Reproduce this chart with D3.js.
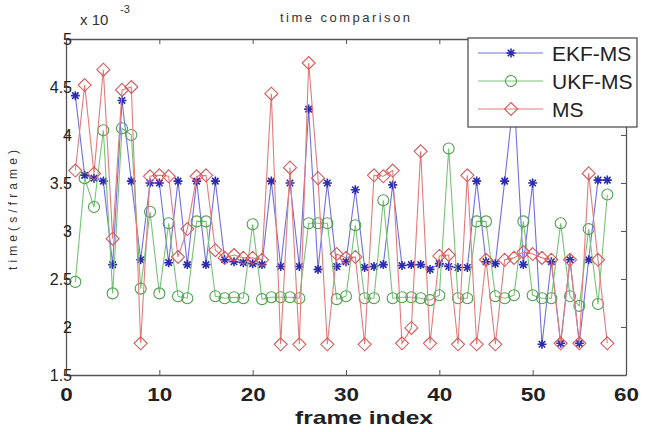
<!DOCTYPE html>
<html>
<head>
<meta charset="utf-8">
<script src="https://cdn.jsdelivr.net/npm/d3@7"></script>
<style>
body { margin: 0; background: #fff; }
text { font-family: "Liberation Sans", Arial, sans-serif; }
</style>
</head>
<body>
<script>
// frame index (x) for every sample
var frames = [1,2,3,4,5,6,7,8,9,10,11,12,13,14,15,16,17,18,19,20,
  21,22,23,24,25,26,27,28,29,30,31,32,33,34,35,36,37,38,39,40,
  41,42,43,44,45,46,47,48,49,50,51,52,53,54,55,56,57,58];

// time per frame, x 10^-3 s
var ekf = [4.41,3.58,3.55,3.52,2.65,4.36,3.52,2.70,3.50,3.50,
  2.67,3.52,2.65,3.52,2.65,3.52,2.70,2.68,2.67,2.66,
  2.65,3.52,2.63,3.50,2.63,4.27,2.60,3.50,2.63,2.68,
  3.43,2.62,2.63,2.65,3.48,2.64,2.65,2.65,2.60,2.66,
  2.63,2.62,2.62,3.52,2.68,2.66,3.52,4.42,2.65,3.50,
  1.82,2.68,1.83,2.70,1.83,2.70,3.53,3.53];

var ukf = [2.47,3.55,3.25,4.05,2.35,4.07,4.00,2.40,3.20,2.35,
  3.08,2.32,2.30,3.10,3.10,2.32,2.30,2.31,2.30,3.07,
  2.29,2.31,2.31,2.31,2.30,3.08,3.08,3.08,2.29,2.32,
  3.06,2.30,2.30,3.32,2.30,2.31,2.31,2.30,2.28,2.33,
  3.86,2.30,2.30,3.10,3.10,2.32,2.30,2.33,3.10,2.33,
  2.30,2.30,3.08,2.32,2.22,3.02,2.24,3.38];

var ms = [3.63,4.52,3.60,4.68,2.92,4.47,4.50,1.83,3.57,3.58,
  3.57,2.73,3.02,3.57,3.58,2.80,2.72,2.75,2.72,2.72,
  2.70,4.43,1.82,3.66,1.82,4.75,3.55,1.82,2.76,2.72,
  2.73,1.82,3.58,3.57,3.63,1.83,1.99,3.83,1.83,2.74,
  2.75,1.82,3.58,1.82,2.70,1.82,2.70,2.72,2.78,2.76,
  2.72,2.70,1.83,2.70,1.83,3.60,2.70,1.83];

var seriesNames = ["EKF-MS", "UKF-MS", "MS"];
var xTicks = [0, 10, 20, 30, 40, 50, 60];
var yTicks = [1.5, 2, 2.5, 3, 3.5, 4, 4.5, 5];

var width = 645, height = 432;
var plotLeft = 66, plotRight = 626, plotTop = 39, plotBottom = 375;

var svg = d3.select("body").append("svg")
    .attr("width", width)
    .attr("height", height);

var x = d3.scaleLinear().domain([0, 60]).range([plotLeft, plotRight]);
var y = d3.scaleLinear().domain([1.5, 5]).range([plotBottom, plotTop]);

// marker shapes
function starPath(s) {
  var d = s * 0.72;
  return "M" + (-s) + ",0L" + s + ",0M0," + (-s) + "L0," + s +
    "M" + (-d) + "," + (-d) + "L" + d + "," + d +
    "M" + (-d) + "," + d + "L" + d + "," + (-d);
}
function diamondPath(s) {
  return "M0," + (-s) + "L" + s + ",0L0," + s + "L" + (-s) + ",0Z";
}

var styles = [
  { line: "#7070e0", mark: "#2c2cb0", draw: function(g) { g.append("path").attr("d", starPath(4.5)).attr("stroke-width", 1.6); } },
  { line: "#78c278", mark: "#4f9f4f", draw: function(g) { g.append("circle").attr("r", 5.5).attr("stroke-width", 1.1); } },
  { line: "#e67a7a", mark: "#d65a5a", draw: function(g) { g.append("path").attr("d", diamondPath(6.5)).attr("stroke-width", 1.1); } }
];
var allSeries = [ekf, ukf, ms];

// axes (box with inward ticks like matlab)
var axisColor = "#555";
var bottomAxis = svg.append("g")
    .attr("transform", "translate(0," + plotBottom + ")")
    .call(d3.axisBottom(x).tickValues(xTicks).tickSizeInner(-5).tickSizeOuter(0).tickPadding(13));
var topAxis = svg.append("g")
    .attr("transform", "translate(0," + plotTop + ")")
    .call(d3.axisTop(x).tickValues(xTicks).tickSizeInner(-5).tickSizeOuter(0).tickFormat(""));
var leftAxis = svg.append("g")
    .attr("transform", "translate(" + plotLeft + ",0)")
    .call(d3.axisLeft(y).tickValues(yTicks).tickSizeInner(-5).tickSizeOuter(0).tickPadding(-6).tickFormat(d3.format("")));
var rightAxis = svg.append("g")
    .attr("transform", "translate(" + plotRight + ",0)")
    .call(d3.axisRight(y).tickValues(yTicks).tickSizeInner(-5).tickSizeOuter(0).tickFormat(""));

[bottomAxis, topAxis, leftAxis, rightAxis].forEach(function(a) {
  a.attr("font-family", null).attr("font-size", null);
  a.select(".domain").attr("stroke", axisColor).attr("stroke-width", 1.3);
  a.selectAll(".tick line").attr("stroke", axisColor).attr("stroke-width", 1);
});
bottomAxis.selectAll(".tick text")
    .attr("fill", "#222")
    .attr("font-size", 18)
    .attr("font-weight", "bold")
    .attr("transform", "scale(1.25,1)");
leftAxis.selectAll(".tick text")
    .attr("fill", "#222")
    .attr("font-size", 16);

// series
var line = d3.line()
    .x(function(d, i) { return x(frames[i]); })
    .y(function(d) { return y(d); });

allSeries.forEach(function(values, k) {
  var st = styles[k];
  svg.append("path")
      .datum(values)
      .attr("fill", "none")
      .attr("stroke", st.line)
      .attr("stroke-width", 1.1)
      .attr("d", line);
  svg.append("g").selectAll("g")
      .data(values)
      .enter()
      .append("g")
      .attr("transform", function(d, i) { return "translate(" + x(frames[i]) + "," + y(d) + ")"; })
      .attr("fill", "none")
      .attr("stroke", st.mark)
      .each(function() { st.draw(d3.select(this)); });
});

// legend (white box drawn over the lines, like matlab)
var legend = svg.append("g");
legend.append("rect")
    .attr("x", 468).attr("y", 38)
    .attr("width", 169).attr("height", 89)
    .attr("fill", "#fff")
    .attr("stroke", "#444")
    .attr("stroke-width", 1.2);
seriesNames.forEach(function(name, k) {
  var ry = 53 + k * 28;
  var st = styles[k];
  legend.append("line")
      .attr("x1", 478).attr("x2", 543)
      .attr("y1", ry).attr("y2", ry)
      .attr("stroke", st.line)
      .attr("stroke-width", 1.2);
  var m = legend.append("g")
      .attr("transform", "translate(511," + ry + ")")
      .attr("fill", "none")
      .attr("stroke", st.mark);
  st.draw(m);
  legend.append("text")
      .attr("x", 552).attr("y", ry + 7.5)
      .attr("font-size", 21)
      .attr("fill", "#222")
      .text(name);
});

// titles
svg.append("text")
    .attr("x", 345).attr("y", 22)
    .attr("text-anchor", "middle")
    .attr("font-size", 13)
    .attr("fill", "#333")
    .attr("textLength", 130)
    .attr("lengthAdjust", "spacing")
    .text("time comparison");

svg.append("text")
    .attr("x", 80).attr("y", 25)
    .attr("font-size", 15)
    .attr("fill", "#333")
    .text("x 10");
svg.append("text")
    .attr("x", 120).attr("y", 13)
    .attr("font-size", 11)
    .attr("fill", "#333")
    .text("-3");

svg.append("text")
    .attr("transform", "translate(17,210) rotate(-90)")
    .attr("text-anchor", "middle")
    .attr("font-size", 12)
    .attr("fill", "#333")
    .attr("textLength", 120)
    .attr("lengthAdjust", "spacing")
    .text("time(s/frame)");

svg.append("text")
    .attr("x", 364).attr("y", 424)
    .attr("text-anchor", "middle")
    .attr("font-size", 19)
    .attr("font-weight", "bold")
    .attr("fill", "#222")
    .attr("textLength", 138)
    .attr("lengthAdjust", "spacingAndGlyphs")
    .text("frame index");
</script>
</body>
</html>
